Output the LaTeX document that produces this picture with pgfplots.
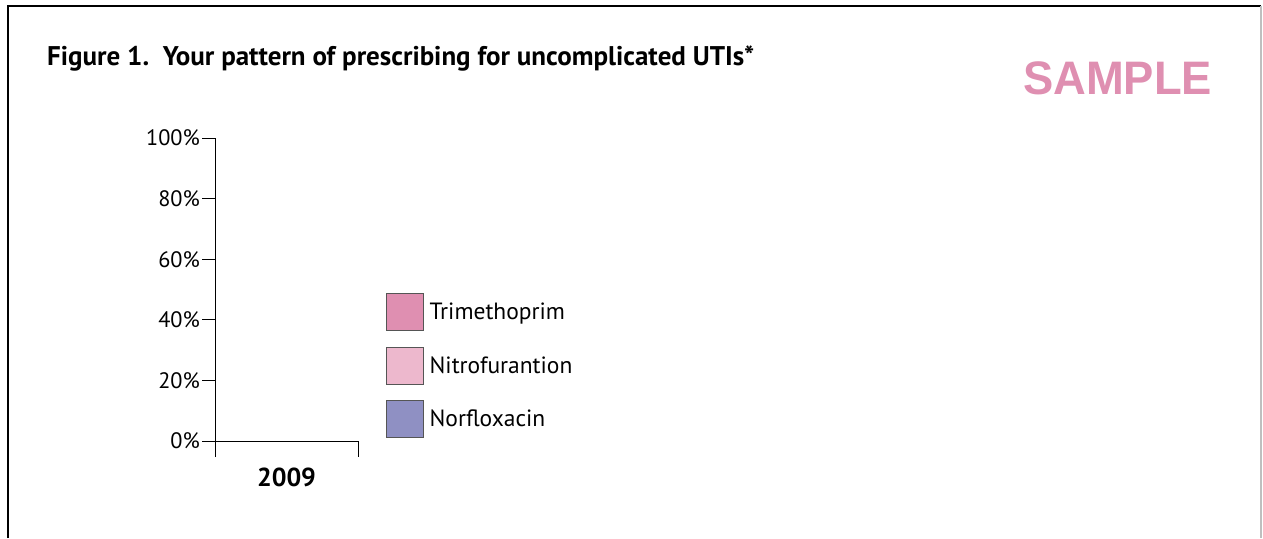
\documentclass[border=0pt]{standalone}
\usepackage{fontspec}
\setmainfont{PT Sans}
\newfontfamily\samplefont{Liberation Sans}
\usepackage{pgfplots}
\pgfplotsset{compat=1.18}
\definecolor{trim}{HTML}{DF8FB1}
\definecolor{nitro}{HTML}{EDB8CD}
\definecolor{norf}{HTML}{8F90C3}
\definecolor{boxedge}{HTML}{555555}
\begin{document}
\begin{tikzpicture}
\useasboundingbox (0,0) rectangle (1263pt,-538pt);
\draw[line width=1.5pt] (8pt,-538pt) -- (8pt,-6pt) -- (1261pt,-6pt);
\draw[line width=1.2pt, gray!50] (1261pt,-6pt) -- (1261pt,-538pt);
\node[anchor=base west, inner sep=0pt, font=\fontsize{27}{32}\selectfont\bfseries] at (47pt,-65pt) {Figure 1.\ \ Your pattern of prescribing for uncomplicated UTIs*};
\node[anchor=base west, inner sep=0pt, text=trim, font=\samplefont\fontsize{47}{56}\selectfont\bfseries] at (1023pt,-94pt) {\scalebox{0.965}[1]{SAMPLE}};
\begin{axis}[
  at={(215pt,-457pt)}, anchor=south west,
  width=143pt, height=319pt, scale only axis,
  xmin=-0.5, xmax=0.5, ymin=-5.28, ymax=100,
  axis y line=left, axis x line=bottom,
  x axis line style={draw=none},
  y axis line style={-, line width=1pt},
  ytick={0,20,40,60,80,100},
  yticklabels={0\%,20\%,40\%,60\%,80\%,100\%},
  xtick={0}, xticklabels={2009},
  xtick style={draw=none},
  ytick style={line width=1pt, black},
  tick align=outside, major tick length=13pt,
  yticklabel style={font=\fontsize{22.3}{26}\selectfont, inner sep=2pt},
  xticklabel style={font=\fontsize{26}{30}\selectfont\bfseries, yshift=6pt},
  ybar stacked, bar width=0.6,
  clip=false,
  legend image code/.code={\draw[#1, draw=boxedge, line width=0.6pt] (0pt,-18.5pt) rectangle (37pt,18.5pt);},
  legend cell align=left,
  legend style={at={(1.196,0.514)}, anchor=north west, draw=none, fill=none,
    inner sep=0pt, outer sep=0pt, row sep=16pt, column sep=6pt,
    nodes={inner sep=0pt}, font=\fontsize{23.5}{28}\selectfont},
]
\addplot[fill=trim, draw=none] coordinates {(0,0)};
\addplot[fill=nitro, draw=none] coordinates {(0,0)};
\addplot[fill=norf, draw=none] coordinates {(0,0)};
\legend{Trimethoprim, Nitrofurantion, Norfloxacin}
\draw[line width=1pt] (axis cs:-0.5,0) -- (axis cs:0.5,0) -- (axis cs:0.5,-5.28);
\end{axis}
\end{tikzpicture}
\end{document}
